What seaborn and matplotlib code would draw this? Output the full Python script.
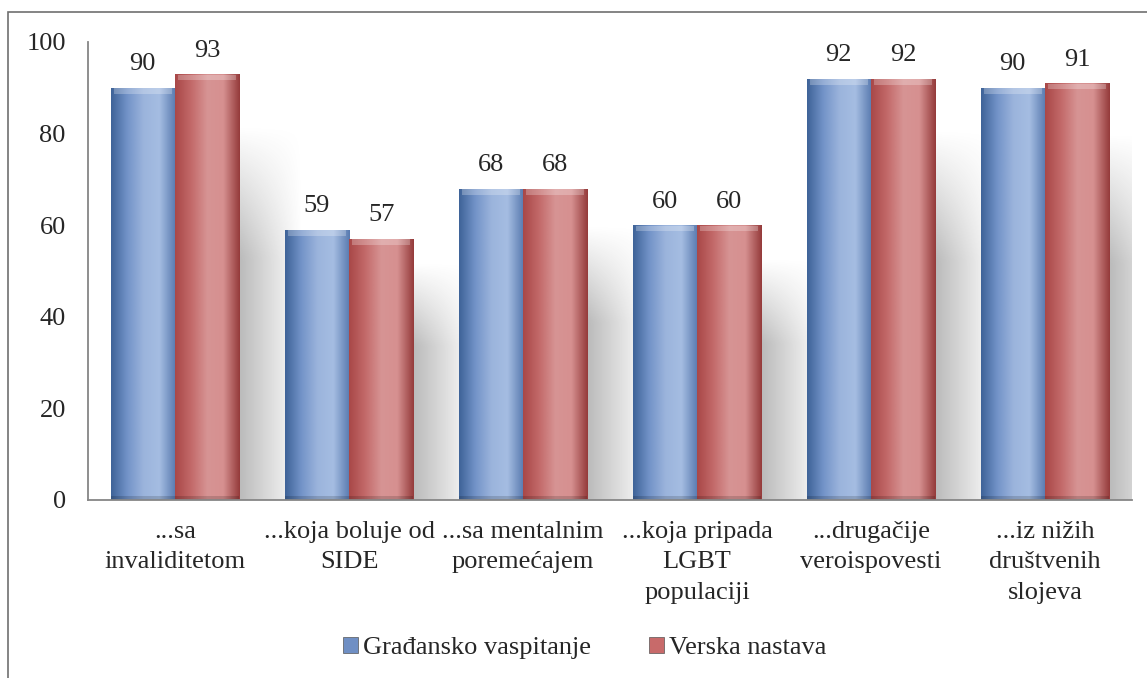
import numpy as np
import pandas as pd
import matplotlib
matplotlib.use("Agg")
import matplotlib.pyplot as plt
import seaborn as sns
from matplotlib.colors import to_rgb
from matplotlib.patches import Rectangle, Patch

categories = [
    "...sa\ninvaliditetom",
    "...koja boluje od\nSIDE",
    "...sa mentalnim\nporemećajem",
    "...koja pripada\nLGBT\npopulaciji",
    "...drugačije\nveroispovesti",
    "...iz nižih\ndruštvenih\nslojeva",
]
gradjansko = [90, 59, 68, 60, 92, 90]
verska = [93, 57, 68, 60, 92, 91]
series_names = ["Građansko vaspitanje", "Verska nastava"]
y_ticks = [0, 20, 40, 60, 80, 100]

df = pd.DataFrame({
    "kategorija": categories * 2,
    "procenat": gradjansko + verska,
    "grupa": [series_names[0]] * len(categories) + [series_names[1]] * len(categories),
})

sns.set_style("white")
plt.rcParams["font.family"] = ["Liberation Serif", "DejaVu Serif"]

palette = {series_names[0]: "#6f8fc4", series_names[1]: "#c86a6a"}
# gradient stops, left -> right, per series
grad_stops = {
    series_names[0]: ["#3f6499", "#7393c8", "#9bb4dc", "#a5bde2", "#5a7bb0"],
    series_names[1]: ["#a94848", "#c36a6a", "#d79494", "#d69090", "#963c3c"],
}

fig = plt.figure(figsize=(11.47, 6.78), dpi=100)
ax = fig.add_axes([88 / 1147, 1 - 500 / 678, (1132 - 88) / 1147, (500 - 42) / 678])

sns.barplot(data=df, x="kategorija", y="procenat", hue="grupa",
            palette=palette, width=0.74, ax=ax, saturation=1,
            edgecolor="none", linewidth=0, zorder=3)
ax.get_legend().remove()


def make_grad(stops, n=64):
    cols = np.array([to_rgb(c) for c in stops])
    xs = np.linspace(0, 1, len(stops))
    t = np.linspace(0, 1, n)
    arr = np.stack([np.interp(t, xs, cols[:, i]) for i in range(3)], axis=-1)
    return arr[np.newaxis, :, :]


bars = [p for p in ax.patches if isinstance(p, Rectangle) and p.get_height() > 0]
n_cat = len(categories)
for i, bar in enumerate(bars):
    name = series_names[0] if i < n_cat else series_names[1]
    x0, w, h = bar.get_x(), bar.get_width(), bar.get_height()
    img = ax.imshow(make_grad(grad_stops[name]), extent=[x0, x0 + w, 0, h],
                    aspect="auto", zorder=4, interpolation="bicubic")
    img.set_clip_path(bar)
    # light bevel on top
    ax.add_patch(Rectangle((x0 + w * 0.05, h - 1.3), w * 0.9, 1.2,
                           facecolor="white", alpha=0.25, edgecolor="none", zorder=5))
    # darker base
    ax.add_patch(Rectangle((x0, 0), w, 0.9, facecolor="black", alpha=0.15,
                           edgecolor="none", zorder=5))

# soft shadows behind each group (fade to the right and toward the top)
ny, nx = 64, 64
horiz = np.linspace(0.6, 0.0, nx)[np.newaxis, :]
vert = np.clip(np.linspace(0, 1, ny) / 0.35, 0, 1)[:, np.newaxis]
shadow = np.zeros((ny, nx, 4))
shadow[..., :3] = 0.55
shadow[..., 3] = horiz * vert
for j in range(n_cat):
    right_bar = bars[n_cat + j]
    xr = right_bar.get_x() + right_bar.get_width()
    top = max(gradjansko[j], verska[j]) * 0.88
    ax.imshow(shadow, extent=[xr, xr + 0.36, 0, top], aspect="auto",
              zorder=1, interpolation="bicubic")

ax.set_ylim(0, 100)
ax.set_xlim(-0.5, len(categories) - 0.5)

for cont in ax.containers:
    ax.bar_label(cont, fmt="%d", fontsize=19, padding=9, zorder=6)

ax.set_yticks(y_ticks)
ax.tick_params(axis="y", length=0, pad=16, labelsize=19)
ax.tick_params(axis="x", length=0, pad=15, labelsize=19)
for lab in ax.get_xticklabels():
    lab.set_linespacing(1.5)
ax.set_xlabel("")
ax.set_ylabel("")
for side in ["top", "right"]:
    ax.spines[side].set_visible(False)
for side in ["left", "bottom"]:
    ax.spines[side].set_color("#868686")
    ax.spines[side].set_linewidth(1.3)
ax.spines["bottom"].set_zorder(7)

handles = [Patch(facecolor=palette[n], edgecolor="#555555", linewidth=0.5) for n in series_names]
fig.legend(handles, series_names, loc="center", bbox_to_anchor=(585 / 1147, 1 - 648 / 678),
           ncol=2, frameon=False, fontsize=19, handlelength=0.55, handleheight=0.55,
           handletextpad=0.2, columnspacing=2.2)

# outer frame
fig.patches.append(Rectangle((8 / 1147, -0.05), 1.1, 1 - 12 / 678 + 0.05,
                             transform=fig.transFigure, fill=False,
                             edgecolor="#707070", linewidth=1.2))

fig.savefig("out.png", dpi=100)
